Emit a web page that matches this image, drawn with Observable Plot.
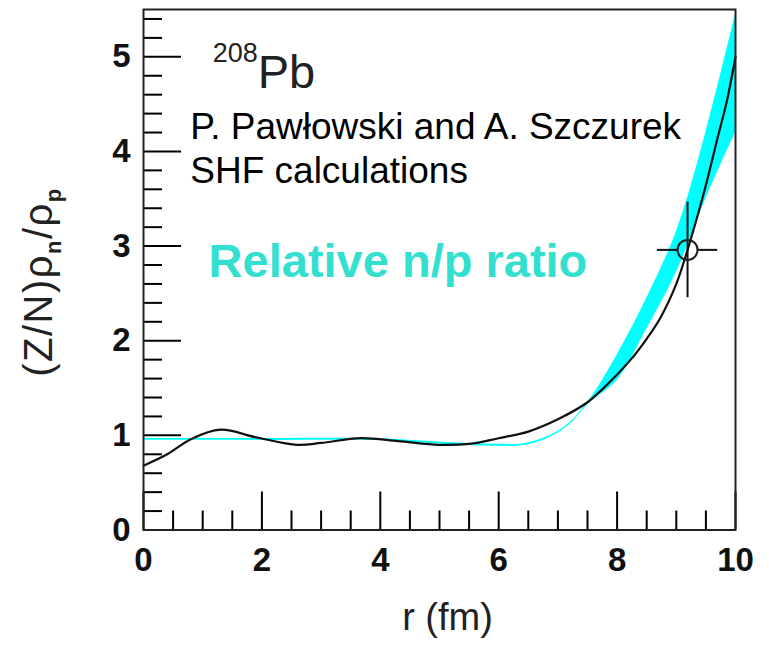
<!DOCTYPE html>
<html><head><meta charset="utf-8">
<script src="https://cdn.jsdelivr.net/npm/d3@7"></script>
<script src="https://cdn.jsdelivr.net/npm/@observablehq/plot@0.6"></script>
<style>body{margin:0;background:#fff;} svg{display:block;}</style>
</head><body><div id="chart"></div>
<script>
// SHF calculation (black curve): r (fm) vs (Z/N) rho_n/rho_p
const rCalc = [0, 0.4, 0.8, 1.3, 1.9, 2.6, 3.0, 3.67, 4.3, 5.0, 5.5, 6.0, 6.5, 7.0, 7.5, 7.9, 8.23, 8.5, 8.73, 9.0, 9.19, 9.46, 9.7, 9.86, 10];
const ratioCalc = [0.68, 0.80, 0.96, 1.06, 0.98, 0.90, 0.92, 0.97, 0.94, 0.90, 0.91, 0.97, 1.04, 1.17, 1.35, 1.58, 1.80, 2.02, 2.24, 2.60, 2.96, 3.55, 4.15, 4.55, 5.0];
// Cyan band
const rBand = [0, 2, 4, 4.7, 5.5, 6.0, 6.4, 6.8, 7.16, 7.55, 8.0, 8.5, 9.0, 9.5, 10];
const bandLow = [0.947, 0.947, 0.945, 0.92, 0.893, 0.885, 0.89, 0.96, 1.09, 1.35, 1.58, 2.12, 2.72, 3.5, 4.2];
const bandHigh = [0.967, 0.967, 0.965, 0.94, 0.913, 0.905, 0.91, 0.98, 1.11, 1.39, 1.85, 2.45, 3.15, 4.2, 5.45];
// Data point with error bars
const pointR = [9.19], pointRatio = [2.96], pointRErr = [0.51], pointRatioErr = [0.40];
// Ticks
const xMajorTicks = [0, 2, 4, 6, 8, 10];
const xMinorTicks = [0.5, 1, 1.5, 2.5, 3, 3.5, 4.5, 5, 5.5, 6.5, 7, 7.5, 8.5, 9, 9.5];
const yMajorTicks = [0, 1, 2, 3, 4, 5];
const yMinorTicks = [0.2, 0.4, 0.6, 0.8, 1.2, 1.4, 1.6, 1.8, 2.2, 2.4, 2.6, 2.8, 3.2, 3.4, 3.6, 3.8, 4.2, 4.4, 4.6, 4.8, 5.2, 5.4];

const calc = rCalc.map((r, i) => ({r, v: ratioCalc[i]}));
const band = rBand.map((r, i) => ({r, lo: bandLow[i], hi: bandHigh[i]}));
const pts = pointR.map((r, i) => ({r, v: pointRatio[i], er: pointRErr[i], ev: pointRatioErr[i]}));

const font = "Liberation Sans, Arial, Helvetica, sans-serif";
const tickFont = {fontSize: 33, fontWeight: "bold", fontFamily: font, fill: "#111", tickFormat: d => String(d)};

const chart = Plot.plot({
  width: 769, height: 650,
  marginLeft: 143, marginRight: 34, marginTop: 9, marginBottom: 120.5,
  style: {fontFamily: font, background: "#fff"},
  x: {domain: [0, 10]},
  y: {domain: [0, 5.5]},
  marks: [
    Plot.areaY(band, {x: "r", y1: "lo", y2: "hi", fill: "#00ffff", curve: "catmull-rom"}),
    Plot.line(calc, {x: "r", y: "v", stroke: "#111", strokeWidth: 2.2, curve: "catmull-rom"}),
    // error bars
    Plot.ruleX(pts, {x: "r", y1: "v", y2: d => d.v + d.ev, insetBottom: 10, stroke: "#111", strokeWidth: 2}),
    Plot.ruleX(pts, {x: "r", y1: d => d.v - d.ev, y2: "v", insetTop: 10, stroke: "#111", strokeWidth: 2}),
    Plot.ruleY(pts, {y: "v", x1: d => d.r - d.er, x2: "r", insetRight: 10, stroke: "#111", strokeWidth: 2}),
    Plot.ruleY(pts, {y: "v", x1: "r", x2: d => d.r + d.er, insetLeft: 10, stroke: "#111", strokeWidth: 2}),
    Plot.dot(pts, {x: "r", y: "v", r: 10, stroke: "#222", strokeWidth: 2, fill: "none"}),
    // axes: inward ticks
    Plot.axisX({ticks: xMajorTicks, tickSize: -38, tickFormat: () => "", strokeWidth: 2, label: null}),
    Plot.axisX({ticks: xMinorTicks, tickSize: -19, tickFormat: () => "", strokeWidth: 2, label: null}),
    Plot.axisY({ticks: yMajorTicks, tickSize: -38, tickFormat: () => "", strokeWidth: 2, label: null}),
    Plot.axisY({ticks: yMinorTicks, tickSize: -19, tickFormat: () => "", strokeWidth: 2, label: null}),
    Plot.axisX({ticks: xMajorTicks, tickSize: 0, tickPadding: 18, label: null, ...tickFont}),
    Plot.axisY({ticks: yMajorTicks, tickSize: 0, tickPadding: 13, label: null, ...tickFont}),
    Plot.frame({stroke: "#222", strokeWidth: 2}),
    // annotations
    Plot.text(["208"], {x: 1.93, y: 4.94, text: d => d, textAnchor: "end", lineAnchor: "bottom", fontSize: 27, fontFamily: font, fill: "#222"}),
    Plot.text(["Pb"], {x: 1.93, y: 4.67, text: d => d, textAnchor: "start", lineAnchor: "bottom", fontSize: 47, fontFamily: font, fill: "#222"}),
    Plot.text(["P. Pawłowski and A. Szczurek"], {x: 0.79, y: 4.13, text: d => d, textAnchor: "start", lineAnchor: "bottom", fontSize: 37, fontFamily: font, fill: "#000"}),
    Plot.text(["SHF calculations"], {x: 0.79, y: 3.67, text: d => d, textAnchor: "start", lineAnchor: "bottom", fontSize: 37, fontFamily: font, fill: "#000"}),
    Plot.text(["Relative n/p ratio"], {x: 1.10, y: 2.67, text: d => d, textAnchor: "start", lineAnchor: "bottom", fontSize: 47, fontWeight: "bold", fontFamily: font, fill: "#33e0d0"}),
    Plot.text(["r (fm)"], {frameAnchor: "bottom", text: d => d, dx: 8, dy: 100, fontSize: 38, fontFamily: font, fill: "#222"})
  ]
});
document.getElementById("chart").appendChild(chart);

// y-axis title with subscripts
const svg = d3.select(chart);
const yt = svg.append("text")
  .attr("transform", "translate(52,282) rotate(-90)")
  .attr("text-anchor", "middle")
  .attr("font-family", font)
  .attr("font-size", 40)
  .attr("letter-spacing", 1.5)
  .attr("fill", "#222");
yt.append("tspan").text("(Z/N)ρ");
yt.append("tspan").attr("dy", 9).attr("font-size", 22).attr("font-weight", "bold").text("n");
yt.append("tspan").attr("dy", -9).text("/ρ");
yt.append("tspan").attr("dy", 9).attr("font-size", 22).attr("font-weight", "bold").text("p");
</script>
</body></html>
